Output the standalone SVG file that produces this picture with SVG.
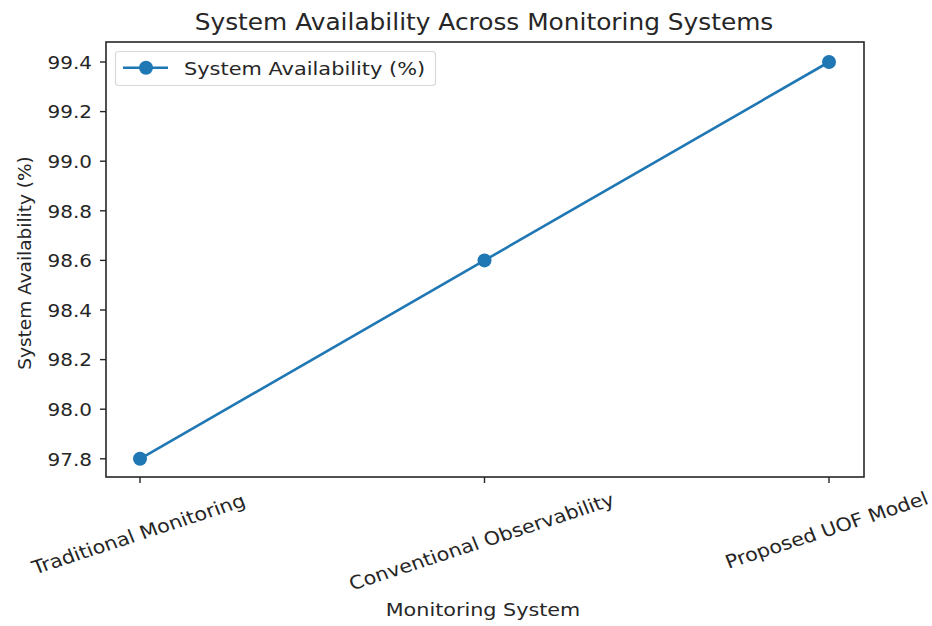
<svg xmlns="http://www.w3.org/2000/svg" width="932" height="626" viewBox="0 0 932 626">
<style>
text{font-family:"DejaVu Sans",sans-serif;fill:#262626;}
.tick{font-size:18.5px;text-anchor:end;}
.xt{font-size:18.5px;text-anchor:middle;}
.axis{fill:none;stroke:#262626;stroke-width:1.6;}
.tk{stroke:#262626;stroke-width:1.4;}
.series{fill:none;stroke:#1f77b4;stroke-width:2.6;}
.mk{fill:#1f77b4;}
</style>
<rect width="932" height="626" fill="#ffffff"/>
<g id="title"><text transform="translate(484,30) scale(1.08,1)" style="font-size:23px;text-anchor:middle">System Availability Across Monitoring Systems</text></g>
<g id="axes">
<rect class="axis" x="106" y="42" width="758" height="435"/>
<g id="yticks">
<line class="tk" x1="100" y1="62" x2="106" y2="62"/>
<line class="tk" x1="100" y1="111.6" x2="106" y2="111.6"/>
<line class="tk" x1="100" y1="161.2" x2="106" y2="161.2"/>
<line class="tk" x1="100" y1="210.8" x2="106" y2="210.8"/>
<line class="tk" x1="100" y1="260.4" x2="106" y2="260.4"/>
<line class="tk" x1="100" y1="310" x2="106" y2="310"/>
<line class="tk" x1="100" y1="359.6" x2="106" y2="359.6"/>
<line class="tk" x1="100" y1="409.2" x2="106" y2="409.2"/>
<line class="tk" x1="100" y1="458.8" x2="106" y2="458.8"/>
<text class="tick" transform="translate(92,68.7) scale(1.08,1)">99.4</text>
<text class="tick" transform="translate(92,118.3) scale(1.08,1)">99.2</text>
<text class="tick" transform="translate(92,167.9) scale(1.08,1)">99.0</text>
<text class="tick" transform="translate(92,217.5) scale(1.08,1)">98.8</text>
<text class="tick" transform="translate(92,267.1) scale(1.08,1)">98.6</text>
<text class="tick" transform="translate(92,316.7) scale(1.08,1)">98.4</text>
<text class="tick" transform="translate(92,366.3) scale(1.08,1)">98.2</text>
<text class="tick" transform="translate(92,415.9) scale(1.08,1)">98.0</text>
<text class="tick" transform="translate(92,465.5) scale(1.08,1)">97.8</text>
</g>
<g id="xticks">
<line class="tk" x1="140" y1="477" x2="140" y2="483"/>
<line class="tk" x1="484.5" y1="477" x2="484.5" y2="483"/>
<line class="tk" x1="829" y1="477" x2="829" y2="483"/>
<text class="xt" transform="translate(138.5,534) scale(1.12,1) rotate(-20)" y="6.5">Traditional Monitoring</text>
<text class="xt" transform="translate(481.5,541.5) scale(1.12,1) rotate(-20)" y="6.5">Conventional Observability</text>
<text class="xt" transform="translate(826.5,530) scale(1.12,1) rotate(-20)" y="6.5">Proposed UOF Model</text>
</g>
<text id="xlabel" transform="translate(483,616) scale(1.12,1)" style="font-size:18.5px;text-anchor:middle">Monitoring System</text>
<text id="ylabel" transform="translate(31,263) rotate(-90)" style="font-size:18.5px;text-anchor:middle">System Availability (%)</text>
</g>
<g id="connectors">
<polyline class="series" points="140,458.8 484.5,260.4 829,62"/>
</g>
<g id="points">
<circle class="mk" cx="140" cy="458.8" r="7"/>
<circle class="mk" cx="484.5" cy="260.4" r="7"/>
<circle class="mk" cx="829" cy="62" r="7"/>
</g>
<g id="legend">
<rect x="115.5" y="51.5" width="320" height="34" rx="3" fill="#ffffff" fill-opacity="0.8" stroke="#d9d9d9" stroke-width="1.2"/>
<line class="series" x1="123" y1="67.7" x2="168" y2="67.7"/>
<circle class="mk" cx="146" cy="67.7" r="7"/>
<text transform="translate(184,74.5) scale(1.13,1)" style="font-size:18.5px">System Availability (%)</text>
</g>
</svg>
